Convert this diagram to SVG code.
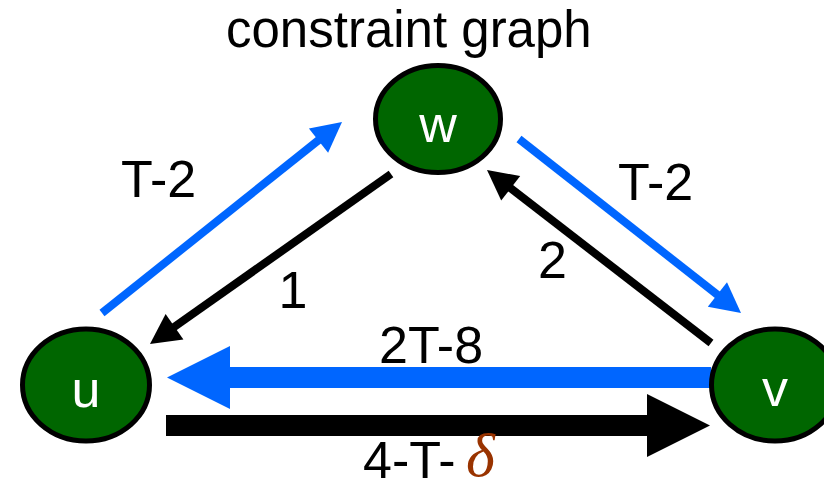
<svg xmlns="http://www.w3.org/2000/svg" width="824" height="490" viewBox="0 0 824 490">
<style>
.node{fill:#006600;stroke:#000;stroke-width:5}
.nl{font-family:"Liberation Sans",Arial,sans-serif;font-size:52px;fill:#fff;text-anchor:middle}
.lbl{font-family:"Liberation Sans",Arial,sans-serif;font-size:52px;fill:#000}
.blue{stroke:#0066FF;stroke-width:8;fill:none}
.blk{stroke:#000;stroke-width:8;fill:none}
.bh{fill:#0066FF}
.kh{fill:#000}
</style>
<rect width="824" height="490" fill="#fff"/>
<text x="226" y="47" class="lbl" style="font-size:51px">constraint graph</text>
<g id="connectors">
  <g id="e-u-w">
    <line x1="102" y1="313" x2="320" y2="139" class="blue"/>
    <polygon points="342,122 328.1,152.8 308.9,128.6" class="bh"/>
  </g>
  <g id="e-w-u">
    <line x1="391" y1="174" x2="172" y2="328.5" class="blk"/>
    <polygon points="150,344 183.4,339.4 165.6,314" class="kh"/>
  </g>
  <g id="e-w-v">
    <line x1="519" y1="139" x2="719" y2="296" class="blue"/>
    <polygon points="741,313 707.8,306.7 727,282.3" class="bh"/>
  </g>
  <g id="e-v-w">
    <line x1="711" y1="343" x2="509" y2="187" class="blk"/>
    <polygon points="487,170 520.2,176 501.2,200.6" class="kh"/>
  </g>
  <g id="e-v-u">
    <polygon points="711,367 230,367 230,346 167,377.5 230,409 230,388 711,388" class="bh"/>
  </g>
  <g id="e-u-v">
    <polygon points="166,415 647,415 647,394 710,425.5 647,457 647,436 166,436" class="kh"/>
  </g>
  <text x="121" y="197" class="lbl">T-2</text>
  <text x="618" y="200" class="lbl">T-2</text>
  <text x="293" y="308" class="lbl" text-anchor="middle">1</text>
  <text x="538" y="278" class="lbl">2</text>
  <text x="379" y="363" class="lbl">2T-8</text>
  <text x="363" y="478" class="lbl">4-T-</text>
  <text x="466" y="476" style="font-family:'Liberation Serif','Times New Roman',serif;font-style:italic;font-size:62px;fill:#993300">δ</text>
</g>
<g id="node-w">
  <ellipse cx="438" cy="119" rx="62.5" ry="53.5" class="node"/>
  <text x="438" y="142" class="nl">w</text>
</g>
<g id="node-u">
  <ellipse cx="86" cy="385" rx="63.5" ry="56" class="node"/>
  <text x="86" y="407" class="nl">u</text>
</g>
<g id="node-v">
  <ellipse cx="775" cy="385" rx="63.5" ry="56" class="node"/>
  <text x="775" y="406" class="nl">v</text>
</g>
</svg>
